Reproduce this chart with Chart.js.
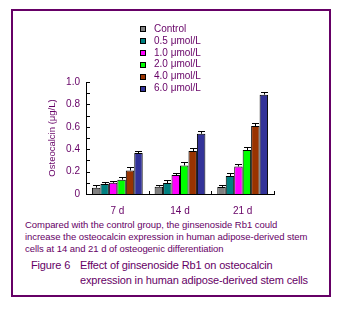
<!DOCTYPE html>
<html>
<head>
<meta charset="utf-8">
<script src="https://cdn.jsdelivr.net/npm/chart.js@4"></script>
<style>
  body { margin: 0; background: #fff; font-family: "Liberation Sans", Arial, sans-serif; }
  #wrap { position: relative; width: 345px; height: 310px; overflow: hidden; }
  #frame { position: absolute; left: 11px; top: 9px; width: 316px; height: 284px; border: 2px solid #660066; }
  #chartBox { position: absolute; left: 0; top: 0; width: 345px; height: 215px; }
  .note { position: absolute; left: 25px; top: 219px; width: 305px; font-size: 9.5px; line-height: 12px; letter-spacing: -0.05px; color: #660066; white-space: nowrap; }
  .fig { position: absolute; top: 258px; font-size: 11px; line-height: 15px; letter-spacing: -0.15px; color: #660066; white-space: nowrap; }
</style>
</head>
<body>
<div id="wrap">
  <div id="frame"></div>
  <div id="chartBox"><canvas id="chart"></canvas></div>
  <div class="note">Compared with the control group, the ginsenoside Rb1 could<br>increase the osteocalcin expression in human adipose-derived stem<br>cells at 14 and 21 d of osteogenic differentiation</div>
  <div class="fig" style="left:31px">Figure 6</div>
  <div class="fig" style="left:80px">Effect of ginsenoside Rb1 on osteocalcin<br>expression in human adipose-derived stem cells</div>
</div>
<script>
const categories = ['7 d', '14 d', '21 d'];
const seriesLabels = ['Control', '0.5 μmol/L', '1.0 μmol/L', '2.0 μmol/L', '4.0 μmol/L', '6.0 μmol/L'];
const seriesColors = ['#808080', '#008080', '#ff00ff', '#00ff00', '#993300', '#333399'];

const control = [0.056, 0.065, 0.063];
const dose05 = [0.090, 0.098, 0.160];
const dose10 = [0.100, 0.170, 0.246];
const dose20 = [0.128, 0.255, 0.393];
const dose40 = [0.210, 0.384, 0.607];
const dose60 = [0.366, 0.538, 0.887];

const errControl = [0.025, 0.018, 0.020];
const err05 = [0.017, 0.030, 0.024];
const err10 = [0.020, 0.020, 0.024];
const err20 = [0.020, 0.035, 0.023];
const err40 = [0.028, 0.030, 0.023];
const err60 = [0.020, 0.024, 0.023];

const yTickLabels = ['0', '0.1', '0.2', '0.3', '0.4', '0.5', '0.6', '0.7', '0.8', '0.9', '1.0'];

const seriesValues = [control, dose05, dose10, dose20, dose40, dose60];
const seriesErrors = [errControl, err05, err10, err20, err40, err60];

const purple = '#660066';
const font = { family: '"Liberation Sans", Arial, sans-serif', size: 10 };

// error bars (upper half only, with a cap)
const errorBars = {
  id: 'errorBars',
  afterDatasetsDraw(chart) {
    const { ctx } = chart;
    const y = chart.scales.y;
    ctx.save();
    ctx.strokeStyle = '#000';
    ctx.lineWidth = 1;
    chart.data.datasets.forEach((ds, i) => {
      chart.getDatasetMeta(i).data.forEach((bar, j) => {
        const top = y.getPixelForValue(ds.data[j] + seriesErrors[i][j]);
        const x = Math.round(bar.x) + 0.5;
        const yt = Math.round(top) + 0.5;
        ctx.beginPath();
        ctx.moveTo(x, bar.y);
        ctx.lineTo(x, yt);
        ctx.moveTo(x - 3.5, yt);
        ctx.lineTo(x + 3.5, yt);
        ctx.stroke();
      });
    });
    ctx.restore();
  }
};

// inward tick marks on both axes
const innerTicks = {
  id: 'innerTicks',
  afterDraw(chart) {
    const { ctx, chartArea } = chart;
    const x = chart.scales.x, y = chart.scales.y;
    ctx.save();
    ctx.strokeStyle = '#000';
    ctx.lineWidth = 1;
    ctx.beginPath();
    yTickLabels.forEach((_, i) => {
      const py = Math.round(y.getPixelForValue(i / 10)) + 0.5;
      ctx.moveTo(chartArea.left, py);
      ctx.lineTo(chartArea.left + 4, py);
    });
    for (let i = 1; i <= categories.length; i++) {
      const px = Math.round(x.getPixelForValue(i - 0.5)) + 0.5;
      ctx.moveTo(px, chartArea.bottom);
      ctx.lineTo(px, chartArea.bottom - 3);
    }
    ctx.stroke();
    ctx.restore();
  }
};

// legend placed inside the plot, stacked vertically
const boxLegend = {
  id: 'boxLegend',
  afterDraw(chart) {
    const { ctx } = chart;
    ctx.save();
    ctx.font = '10px "Liberation Sans", Arial, sans-serif';
    ctx.textBaseline = 'middle';
    chart.data.datasets.forEach((ds, i) => {
      const cy = 29 + i * 11.9;
      ctx.fillStyle = ds.backgroundColor;
      ctx.fillRect(140.5, Math.round(cy) - 2.5, 5, 5);
      ctx.strokeStyle = '#000';
      ctx.strokeRect(140.5, Math.round(cy) - 2.5, 5, 5);
      ctx.fillStyle = purple;
      ctx.fillText(ds.label, 154, cy);
    });
    ctx.restore();
  }
};

new Chart(document.getElementById('chart'), {
  type: 'bar',
  data: {
    labels: categories,
    datasets: seriesLabels.map((label, i) => ({
      label,
      data: seriesValues[i],
      backgroundColor: seriesColors[i],
      borderColor: '#000',
      borderWidth: 1,
      categoryPercentage: 0.81,
      barPercentage: 1.0
    }))
  },
  options: {
    responsive: true,
    maintainAspectRatio: false,
    animation: false,
    layout: { padding: { left: 43, right: 71, top: 82, bottom: 0 } },
    plugins: {
      legend: { display: false },
      tooltip: { enabled: false }
    },
    scales: {
      x: {
        grid: { display: false, drawTicks: false },
        border: { display: true, color: '#000', width: 1 },
        ticks: { color: purple, font, padding: 11 },
        afterFit: s => { s.height = 21; }
      },
      y: {
        min: 0,
        max: 1,
        grid: { display: false, drawTicks: false },
        border: { display: true, color: '#000', width: 1 },
        ticks: {
          stepSize: 0.1,
          color: purple,
          font,
          padding: 6,
          callback: (v, i) => yTickLabels[i]
        },
        title: {
          display: true,
          text: 'Osteocalcin (μg/L)',
          color: purple,
          font: { family: font.family, size: 9.5 },
          padding: { top: 4, bottom: 0 }
        },
        afterFit: s => { s.width = 43; }
      }
    }
  },
  plugins: [errorBars, innerTicks, boxLegend]
});
</script>
</body>
</html>
